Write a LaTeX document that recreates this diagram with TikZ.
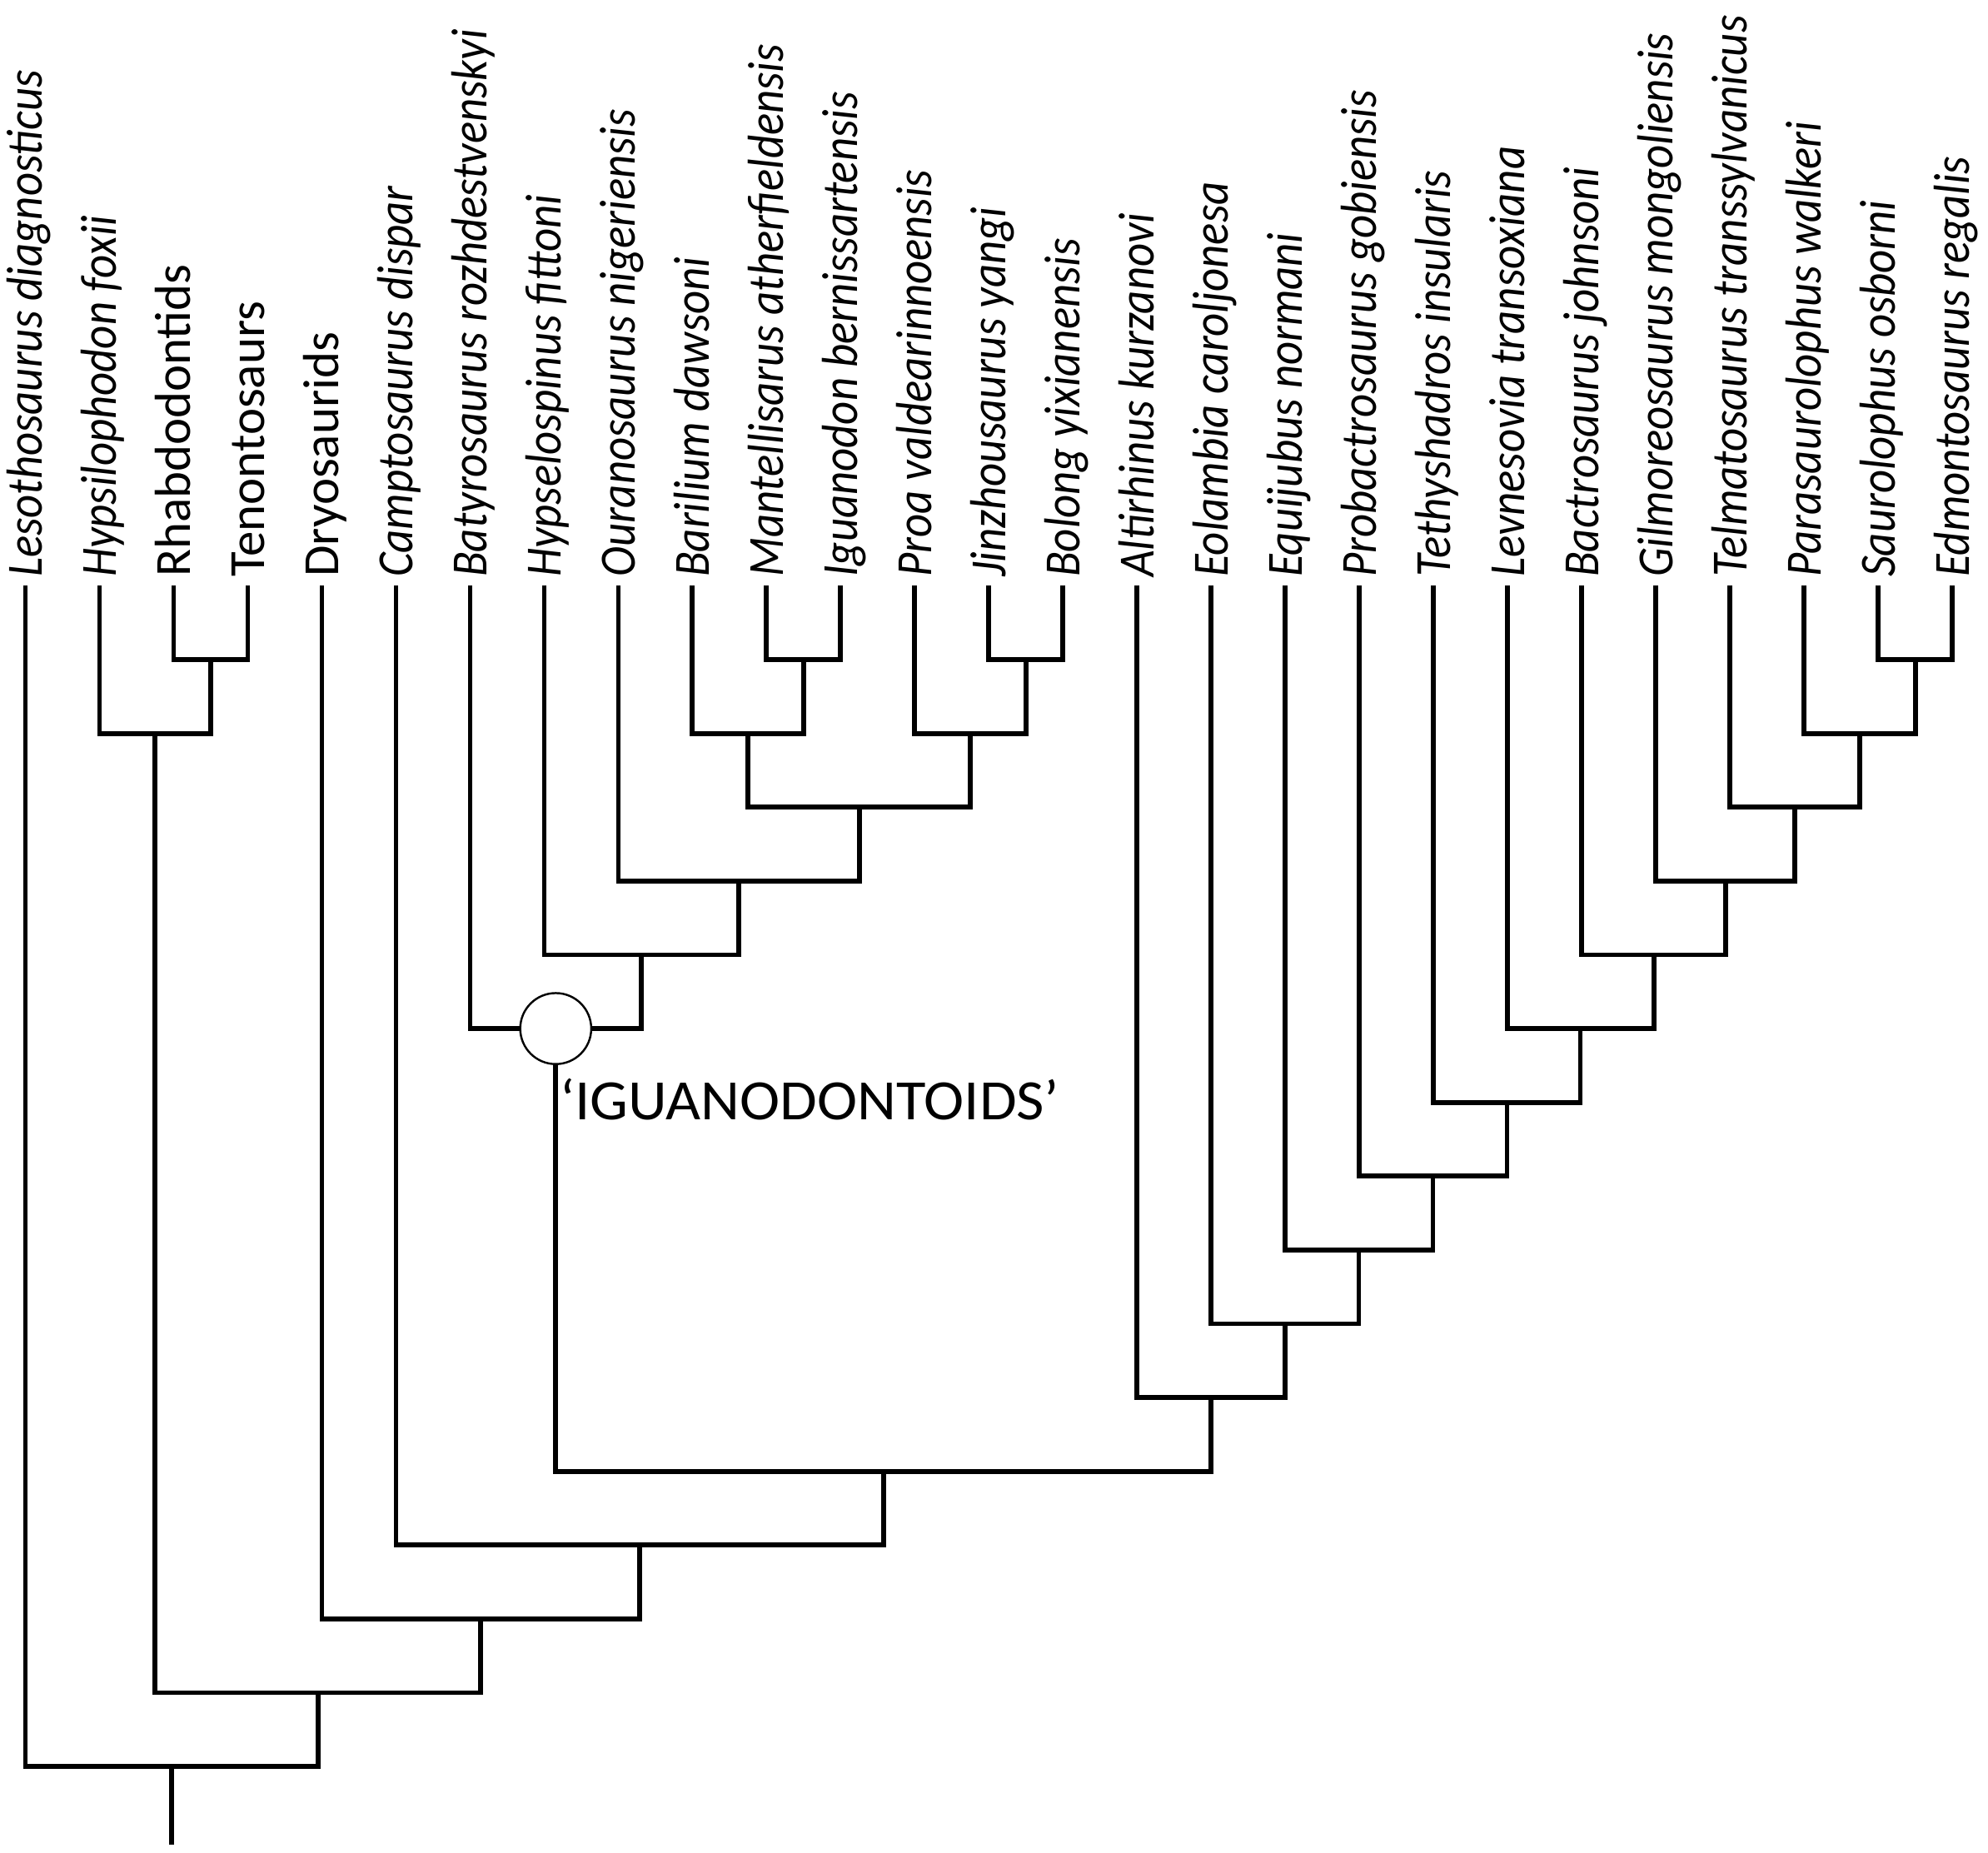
\documentclass[tikz,border=0pt]{standalone}
\usepackage{fontspec}
\setsansfont{Carlito}[ItalicFeatures={FakeStretch=0.9}]
\newfontfamily\cladefont{Carlito}[FakeStretch=1.06]
\usetikzlibrary{positioning}

\begin{document}
\begin{tikzpicture}[
  x=29.23pt, y=-29.1pt,
  taxon/.style={rotate=90,anchor=west,inner sep=0pt,outer xsep=3.5pt,text height=13pt,text depth=0pt,
    font=\sffamily\itshape\fontsize{20pt}{24pt}\selectfont},
  group/.style={taxon,font=\sffamily\fontsize{20pt}{24pt}\selectfont},
  branch/.style={line width=1.9pt},
  clade/.style={circle,draw,line width=0.8pt,fill=white,minimum size=28pt,inner sep=0pt},
  cladename/.style={inner sep=0pt,text height=14.5pt,text depth=0pt,
    font=\cladefont\fontsize{22.5pt}{27pt}\selectfont}
]
\useasboundingbox (-0.342,-7.94) rectangle (26.48,17.165);

% taxa
\node[taxon] (lesotho) at (0,0) {Lesothosaurus diagnosticus};
\node[taxon] (hypsilo) at (1,0) {Hypsilophodon foxii};
\node[group] (rhabdo) at (2,0) {Rhabdodontids};
\node[group] (tenonto) at (3,0) {Tenontosaurs};
\node[group] (dryo) at (4,0) {Dryosaurids};
\node[taxon] (campto) at (5,0) {Camptosaurus dispar};
\node[taxon] (batyro) at (6,0) {Batyrosaurus rozhdestvenskyi};
\node[taxon] (hypsel) at (7,0) {Hypselospinus fittoni};
\node[taxon] (ourano) at (8,0) {Ouranosaurus nigeriensis};
\node[taxon] (barilium) at (9,0) {Barilium dawsoni};
\node[taxon] (mantelli) at (10,0) {Mantellisarus atherfieldensis};
\node[taxon] (iguanodon) at (11,0) {Iguanodon bernissartensis};
\node[taxon] (proa) at (12,0) {Proa valdearinnoensis};
\node[taxon] (jinzhou) at (13,0) {Jinzhousaurus yangi};
\node[taxon] (bolong) at (14,0) {Bolong yixianensis};
\node[taxon] (altirhinus) at (15,0) {Altirhinus kurzanovi};
\node[taxon] (eolambia) at (16,0) {Eolambia caroljonesa};
\node[taxon] (equijubus) at (17,0) {Equijubus normani};
\node[taxon] (probactro) at (18,0) {Probactrosaurus gobiensis};
\node[taxon] (tethys) at (19,0) {Tethyshadros insularis};
\node[taxon] (levnesovia) at (20,0) {Levnesovia transoxiana};
\node[taxon] (bactro) at (21,0) {Bactrosaurus johnsoni};
\node[taxon] (gilmoreo) at (22,0) {Gilmoreosaurus mongoliensis};
\node[taxon] (telmato) at (23,0) {Telmatosaurus transsylvanicus};
\node[taxon] (parasaur) at (24,0) {Parasaurolophus walkeri};
\node[taxon] (saurolo) at (25,0) {Saurolophus osborni};
\node[taxon] (edmonto) at (26,0) {Edmontosaurus regalis};

% internal nodes
\coordinate (rt) at (2.5,1);
\coordinate (hy) at (1.75,2);
\coordinate (mi) at (10.5,1);
\coordinate (bm) at (9.75,2);
\coordinate (jb) at (13.5,1);
\coordinate (pj) at (12.75,2);
\coordinate (bp) at (11.25,3);
\coordinate (ou) at (9.625,4);
\coordinate (hs) at (8.3125,5);
\coordinate (ig) at (7.156,6);
\coordinate (se) at (25.5,1);
\coordinate (pa) at (24.75,2);
\coordinate (te) at (23.875,3);
\coordinate (gi) at (22.9375,4);
\coordinate (ba) at (21.97,5);
\coordinate (le) at (20.98,6);
\coordinate (th) at (19.99,7);
\coordinate (pr) at (18.99,8);
\coordinate (eq) at (17.99,9);
\coordinate (eo) at (17.0,10);
\coordinate (al) at (16.0,11);
\coordinate (io) at (11.578,12);
\coordinate (ca) at (8.289,13);
\coordinate (dr) at (6.14,14);
\coordinate (or) at (3.95,15);
\coordinate (ro) at (1.97,16);
\coordinate (base) at (1.97,17.06);

% branches
\draw[branch] (rhabdo.west) |- (rt) -| (tenonto.west);
\draw[branch] (hypsilo.west) |- (hy) -| (rt);
\draw[branch] (mantelli.west) |- (mi) -| (iguanodon.west);
\draw[branch] (barilium.west) |- (bm) -| (mi);
\draw[branch] (jinzhou.west) |- (jb) -| (bolong.west);
\draw[branch] (proa.west) |- (pj) -| (jb);
\draw[branch] (bm) |- (bp) -| (pj);
\draw[branch] (ourano.west) |- (ou) -| (bp);
\draw[branch] (hypsel.west) |- (hs) -| (ou);
\draw[branch] (batyro.west) |- (ig) -| (hs);
\draw[branch] (saurolo.west) |- (se) -| (edmonto.west);
\draw[branch] (parasaur.west) |- (pa) -| (se);
\draw[branch] (telmato.west) |- (te) -| (pa);
\draw[branch] (gilmoreo.west) |- (gi) -| (te);
\draw[branch] (bactro.west) |- (ba) -| (gi);
\draw[branch] (levnesovia.west) |- (le) -| (ba);
\draw[branch] (tethys.west) |- (th) -| (le);
\draw[branch] (probactro.west) |- (pr) -| (th);
\draw[branch] (equijubus.west) |- (eq) -| (pr);
\draw[branch] (eolambia.west) |- (eo) -| (eq);
\draw[branch] (altirhinus.west) |- (al) -| (eo);

\node[clade] (igcirc) at (ig) {};
\node[cladename,below right=7pt and 1.5pt of igcirc.south] (iglabel) {‘IGUANODONTOIDS’};

\draw[branch] (igcirc.south) |- (io) -| (al);
\draw[branch] (campto.west) |- (ca) -| (io);
\draw[branch] (dryo.west) |- (dr) -| (ca);
\draw[branch] (hy) |- (or) -| (dr);
\draw[branch] (lesotho.west) |- (ro) -| (or);
\draw[branch] (ro) -- (base);
\end{tikzpicture}
\end{document}
